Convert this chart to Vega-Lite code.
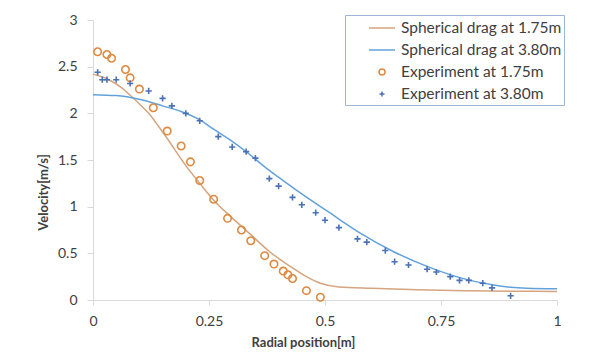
{
  "$schema": "https://vega.github.io/schema/vega-lite/v6.json",
  "autosize": {"type": "none"},
  "padding": {"left": 93, "top": 20, "right": 32, "bottom": 54},
  "width": 464,
  "height": 280,
  "background": "white",
  "datasets": {
    "curves": [
      {"series": "Spherical drag at 1.75m", "r": 0, "v": 2.42},
      {"series": "Spherical drag at 1.75m", "r": 0.03, "v": 2.37},
      {"series": "Spherical drag at 1.75m", "r": 0.06, "v": 2.28},
      {"series": "Spherical drag at 1.75m", "r": 0.083, "v": 2.18},
      {"series": "Spherical drag at 1.75m", "r": 0.1, "v": 2.1},
      {"series": "Spherical drag at 1.75m", "r": 0.12, "v": 2.0},
      {"series": "Spherical drag at 1.75m", "r": 0.14, "v": 1.87},
      {"series": "Spherical drag at 1.75m", "r": 0.16, "v": 1.73},
      {"series": "Spherical drag at 1.75m", "r": 0.2, "v": 1.44},
      {"series": "Spherical drag at 1.75m", "r": 0.23, "v": 1.25},
      {"series": "Spherical drag at 1.75m", "r": 0.26, "v": 1.07},
      {"series": "Spherical drag at 1.75m", "r": 0.3, "v": 0.88},
      {"series": "Spherical drag at 1.75m", "r": 0.34, "v": 0.7},
      {"series": "Spherical drag at 1.75m", "r": 0.38, "v": 0.52},
      {"series": "Spherical drag at 1.75m", "r": 0.425, "v": 0.36},
      {"series": "Spherical drag at 1.75m", "r": 0.46, "v": 0.25},
      {"series": "Spherical drag at 1.75m", "r": 0.49, "v": 0.18},
      {"series": "Spherical drag at 1.75m", "r": 0.53, "v": 0.14},
      {"series": "Spherical drag at 1.75m", "r": 0.6, "v": 0.125},
      {"series": "Spherical drag at 1.75m", "r": 0.7, "v": 0.11},
      {"series": "Spherical drag at 1.75m", "r": 0.8, "v": 0.1},
      {"series": "Spherical drag at 1.75m", "r": 0.9, "v": 0.095},
      {"series": "Spherical drag at 1.75m", "r": 1.0, "v": 0.09},
      {"series": "Spherical drag at 3.80m", "r": 0, "v": 2.2},
      {"series": "Spherical drag at 3.80m", "r": 0.05, "v": 2.19},
      {"series": "Spherical drag at 3.80m", "r": 0.1, "v": 2.15},
      {"series": "Spherical drag at 3.80m", "r": 0.15, "v": 2.08},
      {"series": "Spherical drag at 3.80m", "r": 0.19, "v": 2.02},
      {"series": "Spherical drag at 3.80m", "r": 0.23, "v": 1.93},
      {"series": "Spherical drag at 3.80m", "r": 0.26, "v": 1.83},
      {"series": "Spherical drag at 3.80m", "r": 0.3, "v": 1.7},
      {"series": "Spherical drag at 3.80m", "r": 0.335, "v": 1.57},
      {"series": "Spherical drag at 3.80m", "r": 0.374, "v": 1.41},
      {"series": "Spherical drag at 3.80m", "r": 0.41, "v": 1.28},
      {"series": "Spherical drag at 3.80m", "r": 0.446, "v": 1.15},
      {"series": "Spherical drag at 3.80m", "r": 0.51, "v": 0.935},
      {"series": "Spherical drag at 3.80m", "r": 0.575, "v": 0.72},
      {"series": "Spherical drag at 3.80m", "r": 0.647, "v": 0.52},
      {"series": "Spherical drag at 3.80m", "r": 0.72, "v": 0.36},
      {"series": "Spherical drag at 3.80m", "r": 0.79, "v": 0.24},
      {"series": "Spherical drag at 3.80m", "r": 0.863, "v": 0.16},
      {"series": "Spherical drag at 3.80m", "r": 0.935, "v": 0.125},
      {"series": "Spherical drag at 3.80m", "r": 1.0, "v": 0.12}
    ],
    "experiments": [
      {"series": "Experiment at 1.75m", "r": 0.01, "v": 2.66},
      {"series": "Experiment at 1.75m", "r": 0.03, "v": 2.63},
      {"series": "Experiment at 1.75m", "r": 0.04, "v": 2.59},
      {"series": "Experiment at 1.75m", "r": 0.07, "v": 2.47},
      {"series": "Experiment at 1.75m", "r": 0.08, "v": 2.38},
      {"series": "Experiment at 1.75m", "r": 0.1, "v": 2.26},
      {"series": "Experiment at 1.75m", "r": 0.13, "v": 2.06},
      {"series": "Experiment at 1.75m", "r": 0.16, "v": 1.81},
      {"series": "Experiment at 1.75m", "r": 0.19, "v": 1.65},
      {"series": "Experiment at 1.75m", "r": 0.21, "v": 1.48},
      {"series": "Experiment at 1.75m", "r": 0.23, "v": 1.28},
      {"series": "Experiment at 1.75m", "r": 0.26, "v": 1.08},
      {"series": "Experiment at 1.75m", "r": 0.29, "v": 0.875},
      {"series": "Experiment at 1.75m", "r": 0.32, "v": 0.75},
      {"series": "Experiment at 1.75m", "r": 0.34, "v": 0.635},
      {"series": "Experiment at 1.75m", "r": 0.37, "v": 0.475},
      {"series": "Experiment at 1.75m", "r": 0.39, "v": 0.385},
      {"series": "Experiment at 1.75m", "r": 0.41, "v": 0.31},
      {"series": "Experiment at 1.75m", "r": 0.42, "v": 0.27},
      {"series": "Experiment at 1.75m", "r": 0.43, "v": 0.23},
      {"series": "Experiment at 1.75m", "r": 0.46, "v": 0.1},
      {"series": "Experiment at 1.75m", "r": 0.49, "v": 0.03},
      {"series": "Experiment at 3.80m", "r": 0.01, "v": 2.44},
      {"series": "Experiment at 3.80m", "r": 0.02, "v": 2.36},
      {"series": "Experiment at 3.80m", "r": 0.03, "v": 2.36},
      {"series": "Experiment at 3.80m", "r": 0.05, "v": 2.36},
      {"series": "Experiment at 3.80m", "r": 0.08, "v": 2.32},
      {"series": "Experiment at 3.80m", "r": 0.12, "v": 2.24},
      {"series": "Experiment at 3.80m", "r": 0.15, "v": 2.16},
      {"series": "Experiment at 3.80m", "r": 0.17, "v": 2.08},
      {"series": "Experiment at 3.80m", "r": 0.2, "v": 2.0},
      {"series": "Experiment at 3.80m", "r": 0.23, "v": 1.92},
      {"series": "Experiment at 3.80m", "r": 0.27, "v": 1.75},
      {"series": "Experiment at 3.80m", "r": 0.3, "v": 1.64},
      {"series": "Experiment at 3.80m", "r": 0.33, "v": 1.59},
      {"series": "Experiment at 3.80m", "r": 0.35, "v": 1.52},
      {"series": "Experiment at 3.80m", "r": 0.38, "v": 1.3},
      {"series": "Experiment at 3.80m", "r": 0.4, "v": 1.22},
      {"series": "Experiment at 3.80m", "r": 0.43, "v": 1.1},
      {"series": "Experiment at 3.80m", "r": 0.45, "v": 1.02},
      {"series": "Experiment at 3.80m", "r": 0.48, "v": 0.935},
      {"series": "Experiment at 3.80m", "r": 0.5, "v": 0.855},
      {"series": "Experiment at 3.80m", "r": 0.53, "v": 0.775},
      {"series": "Experiment at 3.80m", "r": 0.57, "v": 0.655},
      {"series": "Experiment at 3.80m", "r": 0.59, "v": 0.62},
      {"series": "Experiment at 3.80m", "r": 0.63, "v": 0.53},
      {"series": "Experiment at 3.80m", "r": 0.65, "v": 0.41},
      {"series": "Experiment at 3.80m", "r": 0.68, "v": 0.375},
      {"series": "Experiment at 3.80m", "r": 0.72, "v": 0.33},
      {"series": "Experiment at 3.80m", "r": 0.74, "v": 0.3},
      {"series": "Experiment at 3.80m", "r": 0.77, "v": 0.25},
      {"series": "Experiment at 3.80m", "r": 0.79, "v": 0.21},
      {"series": "Experiment at 3.80m", "r": 0.81, "v": 0.21},
      {"series": "Experiment at 3.80m", "r": 0.84, "v": 0.18},
      {"series": "Experiment at 3.80m", "r": 0.86, "v": 0.13},
      {"series": "Experiment at 3.80m", "r": 0.9, "v": 0.045}
    ]
  },
  "encoding": {
    "x": {
      "field": "r", "type": "quantitative",
      "scale": {"domain": [0, 1], "nice": false, "zero": false},
      "axis": {
        "title": "Radial position[m]",
        "values": [0, 0.25, 0.5, 0.75, 1],
        "labelExpr": "'' + datum.value",
        "titleX": 210
      }
    },
    "y": {
      "field": "v", "type": "quantitative",
      "scale": {"domain": [0, 3], "nice": false},
      "axis": {
        "title": "Velocity[m/s]",
        "values": [0, 0.5, 1, 1.5, 2, 2.5, 3],
        "labelExpr": "'' + datum.value",
        "titleY": 172
      }
    },
    "color": {
      "field": "series", "type": "nominal",
      "scale": {
        "domain": ["Spherical drag at 1.75m", "Spherical drag at 3.80m", "Experiment at 1.75m", "Experiment at 3.80m"],
        "range": ["#D6A47E", "#62A2DC", "#DE8A42", "#4A72B4"]
      },
      "legend": {
        "orient": "none",
        "legendX": 252,
        "legendY": -5,
        "title": null,
        "labelExpr": "datum.label + '\u2002\u2002\u2002'"
      }
    }
  },
  "layer": [
    {
      "data": {"name": "curves"},
      "mark": {"type": "line", "interpolate": "monotone", "strokeWidth": 1.5}
    },
    {
      "data": {"name": "experiments"},
      "mark": {"type": "point", "filled": false, "size": 620, "strokeWidth": 1.6, "opacity": 1},
      "encoding": {
        "shape": {
          "field": "series", "type": "nominal",
          "scale": {
            "domain": ["Spherical drag at 1.75m", "Spherical drag at 3.80m", "Experiment at 1.75m", "Experiment at 3.80m"],
            "range": [
              "M-1.3,0H1.3",
              "M-1.3,0H1.3",
              "M0.3,0A0.3,0.3,0,1,1,-0.3,0A0.3,0.3,0,1,1,0.3,0Z",
              "M-0.25,0H0.25M0,-0.25V0.25"
            ]
          },
          "legend": {
            "orient": "none",
            "legendX": 252,
            "legendY": -5,
            "title": null,
            "labelExpr": "datum.label + '\u2002\u2002\u2002'"
          }
        }
      }
    }
  ],
  "config": {
    "view": {"stroke": null},
    "font": "Lato",
    "axis": {
      "grid": false,
      "domainColor": "#D9D9D9",
      "tickColor": "#D9D9D9",
      "domainWidth": 1,
      "tickWidth": 1,
      "labelFont": "Lato",
      "labelFontSize": 14,
      "labelColor": "#404040",
      "titleFont": "Lato",
      "titleFontSize": 13,
      "titleFontWeight": "bold",
      "titleColor": "#404040"
    },
    "axisX": {"tickSize": 5, "labelPadding": 9, "titlePadding": 8, "labelFlush": false},
    "axisY": {"tickSize": 6, "labelPadding": 10, "titlePadding": 7},
    "legend": {
      "strokeColor": "#9FB4D8",
      "fillColor": "white",
      "padding": 2,
      "symbolOffset": 24,
      "symbolSize": 400,
      "symbolStrokeWidth": 1.5,
      "symbolFillColor": "transparent",
      "labelFont": "Lato",
      "labelFontSize": 15.5,
      "labelColor": "#404040",
      "labelOffset": 8,
      "labelLimit": 0,
      "rowPadding": 2
    }
  }
}
